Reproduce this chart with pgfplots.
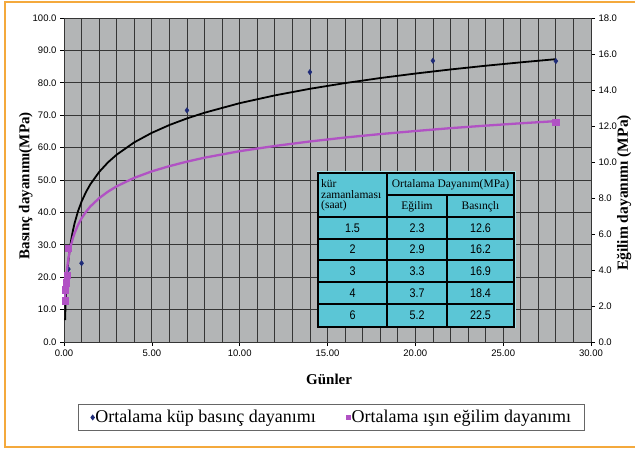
\documentclass[border=0pt]{standalone}
\usepackage{fontspec}
\setmainfont{Liberation Serif}
\newfontfamily\sansf{Liberation Sans}
\newfontfamily\narrowf{Liberation Sans}[FakeStretch=0.86]
\usepackage{pgfplots}
\pgfplotsset{compat=1.18}
\definecolor{plotgray}{HTML}{B3B5B6}
\definecolor{gridc}{HTML}{353535}
\definecolor{navy}{HTML}{1E2B78}
\definecolor{mag}{HTML}{B152C4}
\definecolor{tcyan}{HTML}{5BC6D6}
\definecolor{orng}{HTML}{F4A93C}
\begin{document}
\begin{tikzpicture}[x=1bp,y=1bp]
\useasboundingbox (0,0) rectangle (635,450);
\fill[white] (0,0) rectangle (635,450);
\draw[orng, line width=1.3bp] (5,3) rectangle (660,448);
\pgfplotsset{common/.style={width=527bp,height=324bp,scale only axis,
  at={(64bp,108bp)}, anchor=south west, xmin=0, xmax=30,
  tick label style={font=\fontsize{9.5bp}{11bp}\sansf},
  /pgf/number format/assume math mode=true,
  tick align=outside, major tick length=4bp, minor tick length=0pt,
  tick style={black, line width=0.6bp}}}
\begin{axis}[common, ymin=0, ymax=100,
  xtick={0,5,...,30}, minor x tick num=4, ytick={0,10,...,100},
  xmajorgrids, xminorgrids, ymajorgrids,
  grid style={gridc, line width=0.8bp}, minor grid style={gridc, line width=0.8bp},
  axis background/.style={fill=plotgray},
  axis line style={gridc, line width=0.8bp},
  xtick pos=bottom, ytick pos=left,
  xticklabel style={/pgf/number format/fixed, /pgf/number format/fixed zerofill, /pgf/number format/precision=2},
  yticklabel style={/pgf/number format/fixed, /pgf/number format/fixed zerofill, /pgf/number format/precision=1},
  xlabel={Günler}, ylabel={Basınç dayanımı(MPa)},
  label style={font=\fontsize{15bp}{17bp}\selectfont\bfseries},
  xlabel style={at={(axis description cs:0.503,-0.114)}, anchor=center},
  ylabel style={at={(axis description cs:-0.0727,0.482)}, anchor=center}]
\addplot[black, line width=1.8bp] coordinates {(0.0625,6.75)(0.08,10.01)(0.1,12.95)(0.125,15.90)(0.15,18.30)(0.2,22.10)(0.25,25.04)(0.3,27.45)(0.4,31.24)(0.5,34.19)(0.6,36.59)(0.8,40.39)(1,43.33)(1.25,46.27)(1.5,48.68)(2,52.47)(2.5,55.42)(3,57.82)(4,61.62)(5,64.56)(6,66.97)(7,69.00)(8,70.76)(10,73.71)(12,76.11)(14,78.15)(16,79.91)(18,81.46)(20,82.85)(22,84.11)(24,85.26)(26,86.31)(28,87.29)};
\addplot[only marks, mark=diamond*, mark size=2.7bp, navy] coordinates {(0.0625,12.6)(0.0833,16.2)(0.125,16.9)(0.1667,18.4)(0.25,22.5)(1,24.3)(7,71.5)(14,83.3)(21,86.8)(28,86.7)};
\end{axis}
\begin{axis}[common, ymin=0, ymax=18, ytick={0,2,...,18},
  axis x line=none, axis y line*=right,
  axis line style={gridc, line width=0.8bp},
  yticklabel style={/pgf/number format/fixed, /pgf/number format/fixed zerofill, /pgf/number format/precision=1},
  ylabel={Eğilim dayanımı (MPa)},
  ylabel style={font=\fontsize{15.5bp}{17bp}\selectfont\bfseries, at={(axis description cs:1.0626,0.46)}, anchor=center},
  legend columns=2, legend cell align=left,
  legend style={at={(axis description cs:0.5076,-0.233)}, anchor=center,
    draw=black!60, line width=0.8bp, fill=white,
    font=\fontsize{18bp}{21bp}\selectfont,
    inner xsep=12bp, inner ysep=5bp, nodes={inner sep=1bp},
    /tikz/every even column/.append style={column sep=29bp}},
  legend image code/.code={\draw[#1] plot coordinates {(3bp,0bp)};}]
\addlegendimage{only marks, mark=diamond*, mark size=2.4bp, navy}
\addlegendentry{Ortalama küp basınç dayanımı}
\addlegendimage{only marks, mark=square*, mark size=2.4bp, mag}
\addlegendentry{Ortalama ışın eğilim dayanımı}
\addplot[mag, line width=2.3bp, forget plot] coordinates {(0.0625,2.38)(0.08,2.78)(0.1,3.14)(0.125,3.50)(0.15,3.80)(0.2,4.27)(0.25,4.63)(0.3,4.92)(0.4,5.39)(0.5,5.75)(0.6,6.04)(0.8,6.51)(1,6.87)(1.25,7.23)(1.5,7.53)(2,7.99)(2.5,8.35)(3,8.65)(4,9.12)(5,9.48)(6,9.77)(7,10.02)(8,10.24)(10,10.60)(12,10.89)(14,11.14)(16,11.36)(18,11.55)(20,11.72)(22,11.88)(24,12.02)(26,12.15)(28,12.27)};
\addplot[only marks, mark=square*, mark size=3.2bp, mag, forget plot] coordinates {(0.0625,2.3)(0.0833,2.9)(0.125,3.3)(0.1667,3.7)(0.25,5.2)(28,12.2)};
\end{axis}
% inset table
\fill[tcyan!55!white] (316.5,121.5) rectangle (515.5,278.5);
\fill[tcyan] (318,123) rectangle (514,277);
\draw[black, line width=1.1bp] (318,123) rectangle (514,277);
\draw[black, line width=1.1bp] (387,123) -- (387,277) (447,123) -- (447,255)
  (387,255) -- (514,255) (318,233) -- (514,233) (318,211) -- (514,211)
  (318,190) -- (514,190) (318,168) -- (514,168) (318,146) -- (514,146);
\begin{scope}[every node/.style={inner sep=0pt, font=\fontsize{11.5bp}{12bp}\selectfont}]
\node[anchor=base west] at (321,262) {kür};
\node[anchor=base west] at (321,251.5) {zamanlaması};
\node[anchor=base west] at (321,241) {(saat)};
\node[anchor=base] at (450.5,262) {Ortalama Dayanım(MPa)};
\node[anchor=base] at (417,240) {Eğilim};
\node[anchor=base] at (480.5,240) {Basınçlı};
\end{scope}
\begin{scope}[every node/.style={inner sep=0pt, anchor=base, font=\fontsize{12.5bp}{13bp}\narrowf}]
\node at (352.5,217.5) {1.5}; \node at (417,217.5) {2.3}; \node at (480.5,217.5) {12.6};
\node at (352.5,196) {2};     \node at (417,196) {2.9};   \node at (480.5,196) {16.2};
\node at (352.5,174.5) {3};   \node at (417,174.5) {3.3}; \node at (480.5,174.5) {16.9};
\node at (352.5,152.5) {4};   \node at (417,152.5) {3.7}; \node at (480.5,152.5) {18.4};
\node at (352.5,130) {6};     \node at (417,130) {5.2};   \node at (480.5,130) {22.5};
\end{scope}
\end{tikzpicture}
\end{document}
